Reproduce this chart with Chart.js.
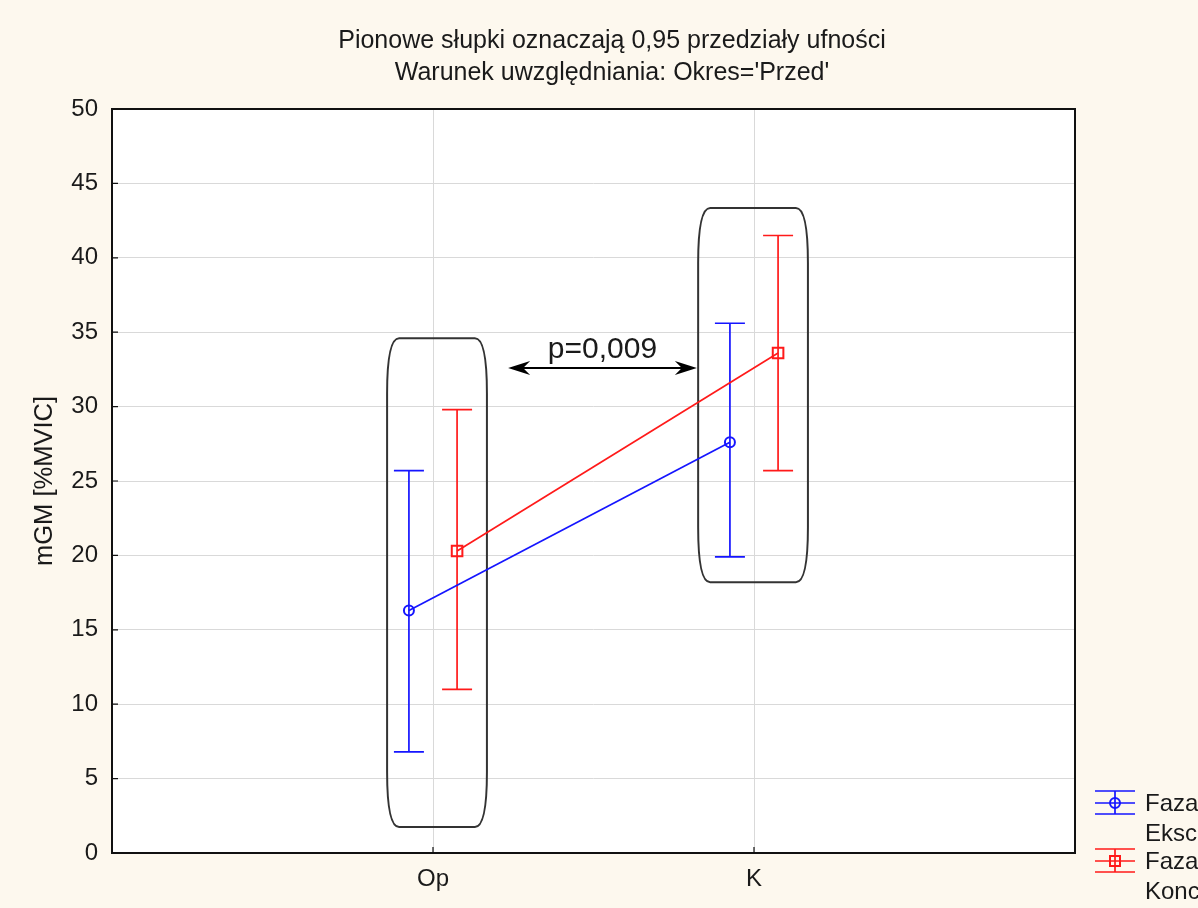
<!DOCTYPE html>
<html>
<head>
<meta charset="utf-8">
<title>mGM [%MVIC]</title>
<script src="https://cdn.jsdelivr.net/npm/chart.js@4/dist/chart.umd.min.js"></script>
<style>
  html, body { margin: 0; padding: 0; background: #fdf8ee; overflow: hidden; }
  canvas { display: block; }
</style>
</head>
<body>
<canvas id="chart" width="1198" height="908"></canvas>
<script>
// kategorie i wartości średnie z przedziałami ufności 0,95
const categories = ['Op', 'K'];
const seriesNames = [['Faza', 'Ekscentryczna'], ['Faza', 'Koncentryczna']];
const eccMean = [16.3, 27.6];
const eccLow = [6.8, 19.9];
const eccHigh = [25.7, 35.6];
const conMean = [20.3, 33.6];
const conLow = [11.0, 25.7];
const conHigh = [29.8, 41.5];
const yTicks = [0, 5, 10, 15, 20, 25, 30, 35, 40, 45, 50];

// ramki wokół grup (w jednostkach osi) i strzałka z wartością p
const groupBoxes = [
  { x0: 0.857, x1: 1.168, y0: 1.75, y1: 34.6 },
  { x0: 1.826, x1: 2.168, y0: 18.2, y1: 43.35 }
];
const pArrow = { x0: 1.234, x1: 1.822, y: 32.6, label: 'p=0,009' };

const titleLines = ['Pionowe słupki oznaczają 0,95 przedziały ufności', "Warunek uwzględniania: Okres='Przed'"];
const yTitle = 'mGM [%MVIC]';

const FONT = '"Liberation Sans", Arial, sans-serif';
const BLUE = '#1515ff';
const RED = '#ff1a1a';
const OFFSET = 0.075;

function points(means, shift) {
  return means.map((m, i) => ({ x: i + 1 + shift, y: m }));
}

const series = [
  { mean: eccMean, low: eccLow, high: eccHigh, color: BLUE, shift: -OFFSET, style: 'circle' },
  { mean: conMean, low: conLow, high: conHigh, color: RED, shift: OFFSET, style: 'rect' }
];

// rysowanie ramki o lekko zaokrąglonych (beczkowatych) bokach
function barrel(ctx, l, t, r, b) {
  const rx = 12, ry = 55;
  ctx.beginPath();
  ctx.moveTo(l + rx, t);
  ctx.lineTo(r - rx, t);
  ctx.bezierCurveTo(r - 3, t, r, t + ry * 0.45, r, t + ry);
  ctx.lineTo(r, b - ry);
  ctx.bezierCurveTo(r, b - ry * 0.45, r - 3, b, r - rx, b);
  ctx.lineTo(l + rx, b);
  ctx.bezierCurveTo(l + 3, b, l, b - ry * 0.45, l, b - ry);
  ctx.lineTo(l, t + ry);
  ctx.bezierCurveTo(l, t + ry * 0.45, l + 3, t, l + rx, t);
  ctx.closePath();
  ctx.stroke();
}

function arrowHead(ctx, x, y, dir) {
  ctx.beginPath();
  ctx.moveTo(x, y);
  ctx.lineTo(x - dir * 22, y - 7);
  ctx.lineTo(x - dir * 15, y);
  ctx.lineTo(x - dir * 22, y + 7);
  ctx.closePath();
  ctx.fill();
}

const decor = {
  id: 'decor',
  beforeDraw(chart) {
    const { ctx, chartArea: a } = chart;
    ctx.save();
    ctx.fillStyle = '#fdf8ee';
    ctx.fillRect(0, 0, chart.width, chart.height);
    ctx.fillStyle = '#ffffff';
    ctx.fillRect(a.left, a.top, a.right - a.left, a.bottom - a.top);
    ctx.restore();
  },
  beforeDatasetsDraw(chart) {
    const { ctx, scales: { x, y } } = chart;
    ctx.save();
    // ramki grup
    ctx.strokeStyle = '#333333';
    ctx.lineWidth = 2;
    groupBoxes.forEach(bx => {
      barrel(ctx, x.getPixelForValue(bx.x0), y.getPixelForValue(bx.y1),
        x.getPixelForValue(bx.x1), y.getPixelForValue(bx.y0));
    });
    // strzałka
    const ax0 = x.getPixelForValue(pArrow.x0);
    const ax1 = x.getPixelForValue(pArrow.x1);
    const ay = y.getPixelForValue(pArrow.y);
    ctx.strokeStyle = '#000';
    ctx.fillStyle = '#000';
    ctx.lineWidth = 2;
    ctx.beginPath();
    ctx.moveTo(ax0 + 10, ay);
    ctx.lineTo(ax1 - 10, ay);
    ctx.stroke();
    arrowHead(ctx, ax0, ay, -1);
    arrowHead(ctx, ax1, ay, 1);
    ctx.font = '30px ' + FONT;
    ctx.fillStyle = '#1a1a1a';
    ctx.textAlign = 'center';
    ctx.textBaseline = 'alphabetic';
    ctx.fillText(pArrow.label, (ax0 + ax1) / 2, ay - 10);
    // słupki błędów
    ctx.lineWidth = 1.7;
    series.forEach(s => {
      ctx.strokeStyle = s.color;
      s.mean.forEach((m, i) => {
        const px = x.getPixelForValue(i + 1 + s.shift);
        const top = y.getPixelForValue(s.high[i]);
        const bot = y.getPixelForValue(s.low[i]);
        ctx.beginPath();
        ctx.moveTo(px, top);
        ctx.lineTo(px, bot);
        ctx.moveTo(px - 15, top);
        ctx.lineTo(px + 15, top);
        ctx.moveTo(px - 15, bot);
        ctx.lineTo(px + 15, bot);
        ctx.stroke();
      });
    });
    ctx.restore();
  },
  afterDraw(chart) {
    const { ctx, chartArea: a, scales: { x, y } } = chart;
    ctx.save();
    // obramowanie obszaru wykresu
    ctx.strokeStyle = '#111';
    ctx.lineWidth = 2;
    ctx.strokeRect(a.left, a.top, a.right - a.left, a.bottom - a.top);
    // krótkie znaczniki podziałki do wewnątrz
    ctx.lineWidth = 1.2;
    ctx.beginPath();
    yTicks.forEach(v => {
      const py = y.getPixelForValue(v);
      ctx.moveTo(a.left, py);
      ctx.lineTo(a.left + 6, py);
    });
    categories.forEach((c, i) => {
      const px = x.getPixelForValue(i + 1);
      ctx.moveTo(px, a.bottom);
      ctx.lineTo(px, a.bottom - 6);
    });
    ctx.stroke();

    // tytuł
    ctx.fillStyle = '#1a1a1a';
    ctx.font = '25px ' + FONT;
    ctx.textAlign = 'center';
    ctx.textBaseline = 'middle';
    ctx.fillText(titleLines[0], 612, 41);
    ctx.fillText(titleLines[1], 612, 73);

    // tytuł osi Y
    ctx.save();
    ctx.translate(45, (a.top + a.bottom) / 2);
    ctx.rotate(-Math.PI / 2);
    ctx.font = '25.5px ' + FONT;
    ctx.fillText(yTitle, 0, 0);
    ctx.restore();

    // legenda
    const lx = 1115;
    series.forEach((s, k) => {
      const my = 803 + k * 58;
      ctx.strokeStyle = s.color;
      ctx.lineWidth = 1.7;
      ctx.beginPath();
      ctx.moveTo(lx - 20, my - 12); ctx.lineTo(lx + 20, my - 12);
      ctx.moveTo(lx - 20, my); ctx.lineTo(lx + 20, my);
      ctx.moveTo(lx - 20, my + 11); ctx.lineTo(lx + 20, my + 11);
      ctx.moveTo(lx, my - 12); ctx.lineTo(lx, my + 11);
      ctx.stroke();
      ctx.lineWidth = 2;
      ctx.beginPath();
      if (s.style === 'circle') {
        ctx.arc(lx, my, 5, 0, Math.PI * 2);
      } else {
        ctx.rect(lx - 5, my - 5, 10, 10);
      }
      ctx.stroke();
      ctx.fillStyle = '#1a1a1a';
      ctx.font = '24px ' + FONT;
      ctx.textAlign = 'left';
      ctx.textBaseline = 'middle';
      ctx.fillText(seriesNames[k][0], 1145, my + 1);
      ctx.fillText(seriesNames[k][1], 1145, my + 31);
    });
    ctx.restore();
  }
};

new Chart(document.getElementById('chart'), {
  type: 'scatter',
  data: {
    datasets: series.map((s, k) => ({
      label: seriesNames[k].join(' '),
      data: points(s.mean, s.shift),
      showLine: true,
      borderColor: s.color,
      backgroundColor: 'rgba(0,0,0,0)',
      borderWidth: 1.7,
      pointStyle: s.style,
      pointRadius: s.style === 'circle' ? 5 : 7.5,
      pointBorderWidth: 2,
      pointBorderColor: s.color,
      pointBackgroundColor: 'rgba(0,0,0,0)'
    }))
  },
  options: {
    responsive: false,
    animation: false,
    layout: { padding: { left: 0, top: 109, right: 123, bottom: 0 } },
    plugins: {
      legend: { display: false },
      title: { display: false },
      tooltip: { enabled: false }
    },
    scales: {
      x: {
        type: 'linear',
        min: 0,
        max: 3,
        afterBuildTicks: scale => { scale.ticks = categories.map((c, i) => ({ value: i + 1 })); },
        afterFit: scale => { scale.height = 55; },
        ticks: {
          callback: v => categories[v - 1],
          font: { family: FONT, size: 24 },
          color: '#1a1a1a',
          padding: 12,
          maxRotation: 0
        },
        grid: { color: '#d9d9d9', drawTicks: false },
        border: { display: false }
      },
      y: {
        min: 0,
        max: 50,
        afterBuildTicks: scale => { scale.ticks = yTicks.map(v => ({ value: v })); },
        afterFit: scale => { scale.width = 112; },
        ticks: {
          font: { family: FONT, size: 24 },
          color: '#1a1a1a',
          padding: 14
        },
        grid: { color: '#d9d9d9', drawTicks: false },
        border: { display: false }
      }
    }
  },
  plugins: [decor]
});
</script>
</body>
</html>
